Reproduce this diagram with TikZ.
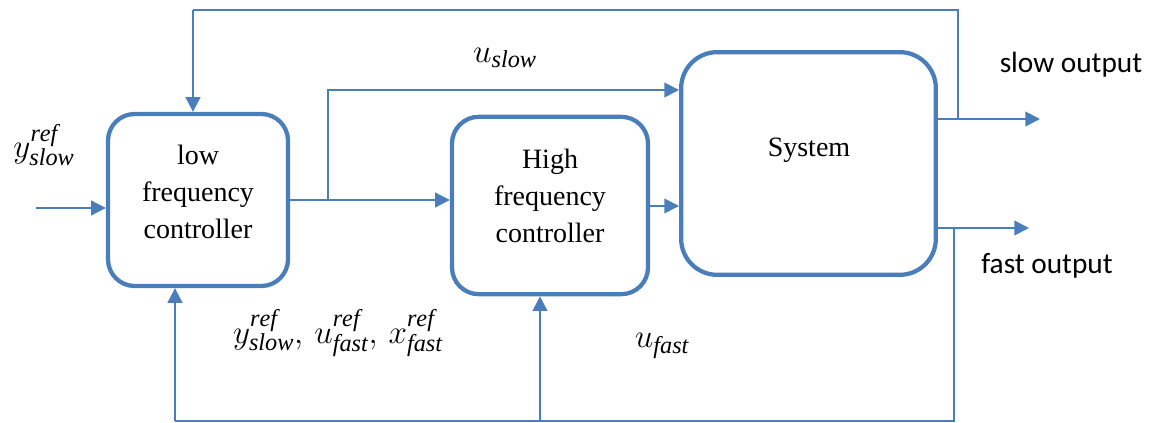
\documentclass[tikz,border=0pt]{standalone}
\usepackage{fontspec}
\setmainfont{Liberation Serif}
\newfontfamily\labelsans{Carlito}
\usetikzlibrary{arrows.meta,calc}
\definecolor{lineblue}{RGB}{74,126,187}
\tikzset{
  block/.style={draw=lineblue, line width=3.2pt, rounded corners=20pt, fill=white,
    align=center, font=\fontsize{21}{28}\selectfont, inner sep=0pt},
  wire/.style={draw=lineblue, line width=1.4pt},
  arr/.style={wire, -{Triangle[length=11pt,width=11pt]}},
  mathlbl/.style={font=\fontsize{26}{30}\selectfont, inner sep=0pt},
  outlbl/.style={font=\labelsans\fontsize{22}{26}\selectfont, inner sep=0pt}
}
\begin{document}
\begin{tikzpicture}[x=0.75pt,y=-0.75pt]
\useasboundingbox (0,0) rectangle (1157,423);

% blocks
\node[block, minimum width=135pt, minimum height=129pt] (lf) at (198,200) {};
\node[align=center, font=\fontsize{21}{28}\selectfont] (lftxt) at (198,192) {low\\frequency\\controller};
\node[block, minimum width=147pt, minimum height=133pt] (hf) at (550,205.5) {};
\node[align=center, font=\fontsize{21}{28}\selectfont] (hftxt) at (550,196) {High\\frequency\\controller};
\node[block, minimum width=191pt, minimum height=167pt, rounded corners=27pt] (sys) at (808.5,163.5) {};
\node[font=\fontsize{21}{28}\selectfont] (systxt) at (809,150) {System};

% free ends and branch points
\coordinate (in) at (36,208);
\coordinate (topL) at (193,10);
\coordinate (tapS) at (958,119);
\coordinate (soEnd) at (1040,119);
\coordinate (tapF) at (954,228);
\coordinate (foEnd) at (1029,228);
\coordinate (botL) at (175,421);
\coordinate (botM) at (540,421);
\coordinate (split) at (328,200);

% reference input
\draw[arr] (in) -- (in -| lf.west);
% slow feedback over the top
\draw[wire] (tapS) -- (tapS |- topL) -- (topL);
\draw[arr] (topL) -- (topL |- lf.north);
% outputs
\draw[arr] (sys.east |- tapS) -- (soEnd);
\draw[arr] (sys.east |- tapF) -- (foEnd);
% fast feedback along the bottom
\draw[wire] (tapF) -- (tapF |- botL) -- (botL);
\draw[arr] (botL) -- (botL |- lf.south);
\draw[arr] (botM) -- (botM |- hf.south);
% controller links
\draw[arr] (lf.east |- split) -- (hf.west |- split);
\draw[arr] (split) -- (328,90) -- (sys.west |- 0,90);
\draw[arr] (hf.east |- 0,206) -- (sys.west |- 0,206);

% labels
\node[mathlbl] (lyref) at (44,145) {$y^{\mathit{ref}}_{\mathit{slow}}$};
\node[mathlbl] (lus) at (505,58) {$u_{\mathit{slow}}$};
\node[mathlbl] (lrefs) at (338,333) {$y^{\mathit{ref}}_{\mathit{slow}},\,u^{\mathit{ref}}_{\mathit{fast}},\,x^{\mathit{ref}}_{\mathit{fast}}$};
\node[mathlbl] (luf) at (662,346) {$u_{\mathit{fast}}$};
\node[outlbl] (lso) at (1071,65) {slow output};
\node[outlbl] (lfo) at (1047,266) {fast output};
\end{tikzpicture}
\end{document}
